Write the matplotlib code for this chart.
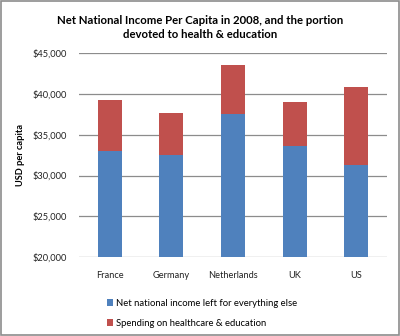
import numpy as np
import matplotlib.pyplot as plt
from matplotlib.patches import Rectangle
from matplotlib.ticker import FuncFormatter

plt.rcParams['font.family'] = ['Lato', 'DejaVu Sans']

countries = ["France", "Germany", "Netherlands", "UK", "US"]
net_income = [32950, 32450, 37550, 33570, 31260]
health_edu = [6230, 5250, 5950, 5380, 9540]
yticks = [20000, 25000, 30000, 35000, 40000, 45000]

fig = plt.figure(figsize=(4, 3.36), dpi=100)
ax = fig.add_axes([0.1975, 0.234, 0.77, 0.609])

x = np.arange(len(countries))
ax.bar(x, net_income, width=0.39, color="#4F81BD", zorder=3,
       label="Net national income left for everything else")
ax.bar(x, health_edu, width=0.39, bottom=net_income, color="#C0504D", zorder=3,
       label="Spending on healthcare & education")

ax.set_ylim(20000, 45000)
ax.set_xlim(-0.5, len(countries) - 0.5)
ax.set_yticks(yticks)
ax.yaxis.set_major_formatter(FuncFormatter(lambda v, p: "${:,.0f}".format(v)))
ax.set_xticks(x)
ax.set_xticklabels(countries)
ax.tick_params(axis="both", length=0, labelsize=6.7, colors="#222222")
ax.tick_params(axis="y", pad=9)
ax.tick_params(axis="x", pad=10)
ax.grid(axis="y", color="#8c8c8c", lw=0.9, zorder=0)
for s in ax.spines.values():
    s.set_visible(False)
ax.set_ylabel("USD per capita", fontsize=6.7, fontweight="bold", labelpad=5)

fig.suptitle("Net National Income Per Capita in 2008, and the portion\ndevoted to health & education",
             y=0.955, fontsize=8.2, fontweight="bold", linespacing=1.3)

fig.legend(loc="upper left", bbox_to_anchor=(0.255, 0.125), frameon=False,
           fontsize=6.8, handlelength=0.7, handleheight=0.7, handletextpad=0.3,
           labelspacing=1.2, borderpad=0)

fig.patches.append(Rectangle((0.003, 0.003), 0.994, 0.994, transform=fig.transFigure,
                             fill=False, edgecolor="#8c8c8c", lw=1.2))

fig.savefig("out.png", dpi=100)
